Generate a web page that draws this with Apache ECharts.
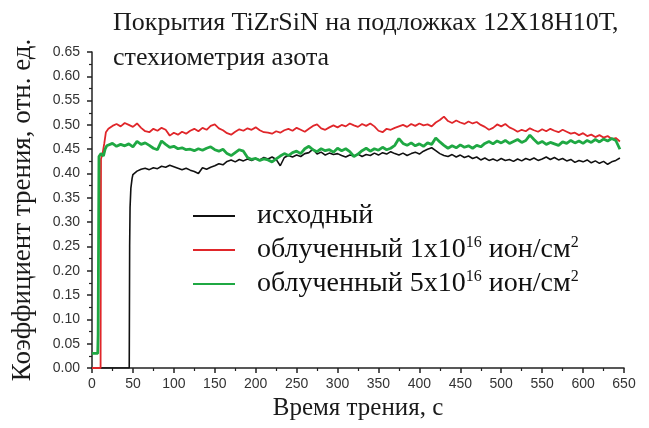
<!DOCTYPE html>
<html>
<head>
<meta charset="utf-8">
<script src="https://cdn.jsdelivr.net/npm/echarts@6/dist/echarts.min.js"></script>
<style>
html,body{margin:0;padding:0;background:#fff;}
#chart{width:649px;height:428px;}
</style>
</head>
<body>
<div id="chart"></div>
<script>
// ---- data ----
const titleLines = ['Покрытия TiZrSiN на подложках 12Х18Н10Т,', 'стехиометрия азота'];
const xAxisName = 'Время трения, с';
const yAxisName = 'Коэффициент трения, отн. ед.';
const seriesNames = ['исходный', 'облученный 1x10^16 ион/см^2', 'облученный 5x10^16 ион/см^2'];

// sample times (s) for the steady part, 20..645
const sampleTime = [20,25,30,35,40,45,50,55,60,65,70,75,80,85,90,95,100,105,110,115,
  120,125,130,135,140,145,150,155,160,165,170,175,180,185,190,195,200,205,210,215,
  220,225,230,235,240,245,250,255,260,265,270,275,280,285,290,295,300,305,310,315,
  320,325,330,335,340,345,350,355,360,365,370,375,380,385,390,395,400,405,410,415,
  420,425,430,435,440,445,450,455,460,465,470,475,480,485,490,495,500,505,510,515,
  520,525,530,535,540,545,550,555,560,565,570,575,580,585,590,595,600,605,610,615,
  620,625,630,635,640,645];

// start-up (running-in) parts: [time, value]
const blackRise = [[0,0],[45.5,0],[46,0.25],[46.5,0.33],[47.5,0.37],[49,0.39]];
const redRise = [[0,0],[10.5,0],[11,0.43],[13,0.442],[15,0.462],[17,0.485]];
const greenRise = [[0,0.03],[7,0.03],[7.5,0.07],[8.5,0.435],[11,0.441],[14,0.436],[16,0.45],[18,0.457]];

// black: values at t = 50..645
const blackValues = [
  0.398,0.405,0.409,0.411,0.408,0.412,0.410,0.415,0.413,0.417,
  0.414,0.411,0.408,0.411,0.407,0.404,0.400,0.412,0.409,0.413,
  0.416,0.420,0.418,0.425,0.428,0.424,0.429,0.426,0.430,0.427,
  0.431,0.428,0.433,0.430,0.434,0.429,0.416,0.433,0.437,0.434,
  0.438,0.435,0.441,0.443,0.450,0.440,0.444,0.438,0.442,0.439,
  0.441,0.437,0.434,0.438,0.436,0.440,0.435,0.439,0.437,0.442,
  0.438,0.443,0.440,0.445,0.441,0.438,0.442,0.437,0.441,0.444,
  0.440,0.446,0.450,0.453,0.447,0.441,0.437,0.435,0.439,0.434,
  0.438,0.433,0.436,0.431,0.434,0.428,0.432,0.427,0.430,0.426,
  0.431,0.427,0.429,0.425,0.430,0.426,0.431,0.428,0.432,0.427,
  0.430,0.434,0.429,0.433,0.428,0.431,0.426,0.429,0.423,0.427,
  0.424,0.428,0.422,0.426,0.421,0.425,0.419,0.424,0.427,0.432];

// red: values at t = 20..645
const redValues = [
  0.492,0.498,0.502,0.497,0.504,0.500,0.496,0.503,0.494,0.487,
  0.485,0.492,0.488,0.494,0.490,0.478,0.484,0.480,0.486,0.482,
  0.488,0.492,0.487,0.494,0.490,0.498,0.501,0.493,0.489,0.483,
  0.480,0.486,0.491,0.488,0.493,0.490,0.495,0.489,0.485,0.484,
  0.482,0.487,0.484,0.489,0.492,0.488,0.494,0.490,0.486,0.492,
  0.498,0.501,0.493,0.490,0.495,0.499,0.495,0.500,0.497,0.503,
  0.499,0.496,0.502,0.498,0.503,0.497,0.488,0.485,0.492,0.490,
  0.494,0.497,0.500,0.496,0.502,0.498,0.503,0.499,0.501,0.497,
  0.505,0.510,0.517,0.508,0.504,0.509,0.505,0.502,0.507,0.503,
  0.506,0.500,0.496,0.490,0.494,0.501,0.497,0.502,0.495,0.491,
  0.486,0.490,0.487,0.493,0.489,0.486,0.491,0.487,0.492,0.488,
  0.485,0.490,0.486,0.482,0.484,0.479,0.483,0.477,0.480,0.475,
  0.479,0.474,0.477,0.471,0.473,0.466];

// green: values at t = 20..645
const greenValues = [
  0.458,0.462,0.456,0.460,0.457,0.461,0.455,0.466,0.460,0.463,
  0.458,0.452,0.449,0.467,0.460,0.454,0.456,0.451,0.453,0.449,
  0.450,0.447,0.451,0.448,0.452,0.455,0.449,0.446,0.450,0.441,
  0.437,0.443,0.449,0.446,0.433,0.429,0.431,0.427,0.430,0.428,
  0.424,0.430,0.436,0.441,0.437,0.443,0.446,0.441,0.451,0.456,
  0.449,0.445,0.451,0.447,0.449,0.444,0.452,0.447,0.451,0.445,
  0.435,0.440,0.447,0.452,0.446,0.451,0.448,0.454,0.449,0.452,
  0.458,0.472,0.462,0.458,0.463,0.457,0.461,0.456,0.463,0.460,
  0.473,0.465,0.458,0.452,0.457,0.453,0.459,0.454,0.457,0.452,
  0.458,0.455,0.462,0.466,0.461,0.467,0.463,0.468,0.462,0.466,
  0.470,0.464,0.468,0.479,0.470,0.462,0.466,0.460,0.464,0.461,
  0.458,0.465,0.462,0.468,0.463,0.467,0.462,0.468,0.464,0.470,
  0.465,0.471,0.467,0.472,0.468,0.450];

// ---- build ----
function pairs(times, values) { return values.map((v, i) => [times[i], v]); }
const blackTime = sampleTime.slice(sampleTime.indexOf(50));
const blackData = blackRise.concat(pairs(blackTime, blackValues));
const redData = redRise.concat(pairs(sampleTime, redValues));
const greenData = greenRise.concat(pairs(sampleTime, greenValues));

const serif = '"Liberation Serif", "Times New Roman", serif';
const sans = '"Liberation Sans", Arial, sans-serif';

const legendRich = {
  f: { fontFamily: serif, fontSize: 28, color: '#111', lineHeight: 30, padding: [0, 0, 0, 17] },
  a: { fontFamily: serif, fontSize: 28, color: '#111', lineHeight: 30 },
  s: { fontFamily: serif, fontSize: 16, color: '#111', lineHeight: 30, verticalAlign: 'top' }
};
function legendFormatter(name) {
  if (name === seriesNames[0]) return '{f|' + name + '}';
  const m = name.match(/^(.*)x10\^(\d+) (.*)\^(\d+)$/);
  return '{f|' + m[1] + 'x10}{s|' + m[2] + '}{a| ' + m[3] + '}{s|' + m[4] + '}';
}

const chart = echarts.init(document.getElementById('chart'), null, { renderer: 'canvas' });
chart.setOption({
  animation: false,
  backgroundColor: '#fff',
  title: {
    text: titleLines.join('\n'),
    left: 108, top: 1,
    textStyle: { fontFamily: serif, fontSize: 26, fontWeight: 'normal', color: '#1a1a1a', lineHeight: 35 }
  },
  legend: {
    orient: 'vertical',
    left: 188, top: 197,
    itemWidth: 42, itemHeight: 2,
    itemGap: 5,
    icon: 'rect',
    data: seriesNames,
    formatter: legendFormatter,
    textStyle: { rich: legendRich }
  },
  grid: { left: 92, right: 25, top: 52, bottom: 60, containLabel: false, outerBoundsMode: 'none' },
  xAxis: {
    type: 'value', min: 0, max: 650, interval: 50,
    name: xAxisName, nameLocation: 'middle', nameGap: 27,
    nameTextStyle: { fontFamily: serif, fontSize: 25, color: '#1a1a1a' },
    axisLine: { show: true, lineStyle: { color: '#222', width: 1.5 } },
    axisTick: { show: true, inside: false, length: 5, lineStyle: { color: '#222', width: 1.5 } },
    minorTick: { show: true, splitNumber: 2, length: 3, lineStyle: { color: '#222', width: 1.2 } },
    splitLine: { show: false },
    axisLabel: { fontFamily: sans, fontSize: 14, color: '#333', margin: 9 }
  },
  yAxis: {
    type: 'value', min: 0, max: 0.65, interval: 0.05,
    name: yAxisName, nameLocation: 'middle', nameGap: 56, nameRotate: 90,
    nameTextStyle: { fontFamily: serif, fontSize: 27, color: '#1a1a1a' },
    axisLine: { show: true, lineStyle: { color: '#222', width: 1.5 } },
    axisTick: { show: true, inside: false, length: 5, lineStyle: { color: '#222', width: 1.5 } },
    minorTick: { show: true, splitNumber: 2, length: 3, lineStyle: { color: '#222', width: 1.2 } },
    splitLine: { show: false },
    axisLabel: { fontFamily: sans, fontSize: 14, color: '#333', margin: 12, formatter: v => v.toFixed(2) }
  },
  series: [
    { name: seriesNames[0], type: 'line', data: blackData, showSymbol: false, color: '#111',
      lineStyle: { width: 1.6, color: '#111' } },
    { name: seriesNames[1], type: 'line', data: redData, showSymbol: false, color: '#e0262a',
      lineStyle: { width: 1.8, color: '#e0262a' } },
    { name: seriesNames[2], type: 'line', data: greenData, showSymbol: false, color: '#1fa843',
      lineStyle: { width: 2.8, color: '#1fa843' } }
  ]
});
</script>
</body>
</html>
